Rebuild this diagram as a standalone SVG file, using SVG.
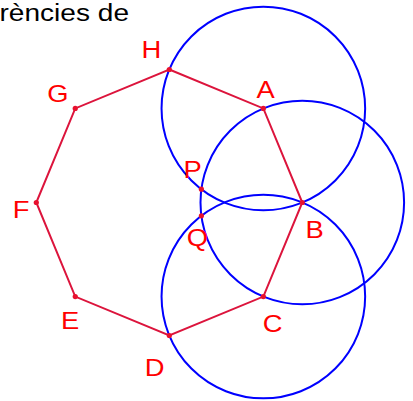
<svg xmlns="http://www.w3.org/2000/svg" width="413" height="401" viewBox="0 0 413 401">
<style>
.circ{fill:none;stroke:#0000ff;stroke-width:2}
.edge{fill:none;stroke:#dc143c;stroke-width:2}
.pt{fill:#e8102e}
.lbl{font-family:"Liberation Sans",Arial,sans-serif;font-size:24px;fill:#ff0000;text-anchor:middle}
.title{font-family:"Liberation Sans",Arial,sans-serif;font-size:24px;fill:#000000;text-anchor:end}
</style>
<rect width="413" height="401" fill="#ffffff"/>
<text class="title" transform="translate(129,21) scale(1.17,1)">rències de</text>
<g id="circles">
<circle class="circ" cx="263.35" cy="108.45" r="101.8"/>
<circle class="circ" cx="302.3" cy="202.5" r="101.8"/>
<circle class="circ" cx="263.35" cy="296.55" r="101.8"/>
</g>
<g id="connectors">
<polygon class="edge" points="169.3,69.5 263.35,108.45 302.3,202.5 263.35,296.55 169.3,335.5 75.25,296.55 36.3,202.5 75.25,108.45"/>
</g>
<g id="A"><circle class="pt" cx="263.35" cy="108.45" r="2.6"/><text class="lbl" transform="translate(265.5,98) scale(1.14,1)">A</text></g>
<g id="B"><circle class="pt" cx="302.3" cy="202.5" r="2.6"/><text class="lbl" transform="translate(314.5,238) scale(1.14,1)">B</text></g>
<g id="C"><circle class="pt" cx="263.35" cy="296.55" r="2.6"/><text class="lbl" transform="translate(272.5,332) scale(1.14,1)">C</text></g>
<g id="D"><circle class="pt" cx="169.3" cy="335.5" r="2.6"/><text class="lbl" transform="translate(154.5,376) scale(1.14,1)">D</text></g>
<g id="E"><circle class="pt" cx="75.25" cy="296.55" r="2.6"/><text class="lbl" transform="translate(70,329) scale(1.14,1)">E</text></g>
<g id="F"><circle class="pt" cx="36.3" cy="202.5" r="2.6"/><text class="lbl" transform="translate(21,218) scale(1.14,1)">F</text></g>
<g id="G"><circle class="pt" cx="75.25" cy="108.45" r="2.6"/><text class="lbl" transform="translate(58,102) scale(1.14,1)">G</text></g>
<g id="H"><circle class="pt" cx="169.3" cy="69.5" r="2.6"/><text class="lbl" transform="translate(151.3,58) scale(1.14,1)">H</text></g>
<g id="P"><circle class="pt" cx="201.4" cy="189.2" r="2.6"/><text class="lbl" transform="translate(192.5,178) scale(1.14,1)">P</text></g>
<g id="Q"><circle class="pt" cx="201.4" cy="215.8" r="2.6"/><text class="lbl" transform="translate(197.5,246) scale(1.14,1)">Q</text></g>
</svg>
